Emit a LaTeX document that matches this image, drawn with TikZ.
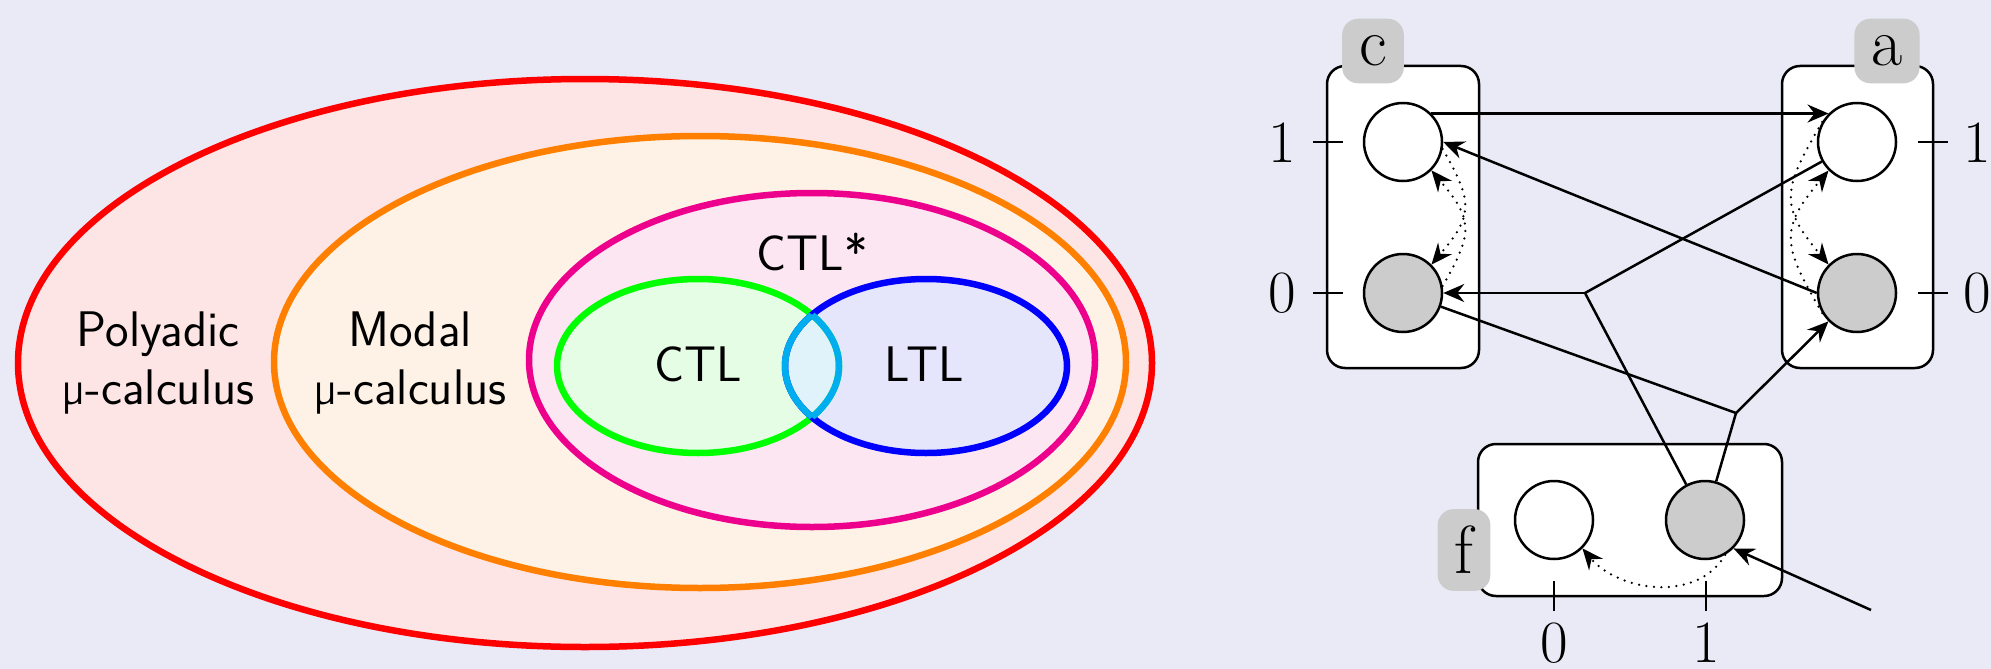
\documentclass[tikz,border=0pt]{standalone}
\usepackage{fontspec}
\setsansfont{Latin Modern Sans}
\usetikzlibrary{arrows.meta,calc}
\definecolor{bg}{RGB}{234,234,246}
\definecolor{redfill}{RGB}{253,229,230}
\definecolor{orangefill}{RGB}{254,242,230}
\definecolor{magfill}{RGB}{252,230,242}
\definecolor{greenfill}{RGB}{229,253,229}
\definecolor{bluefill}{RGB}{229,229,252}
\definecolor{lensfill}{RGB}{224,242,250}
\definecolor{redline}{RGB}{255,0,0}
\definecolor{orangeline}{RGB}{255,128,0}
\definecolor{magline}{RGB}{236,0,140}
\definecolor{greenline}{RGB}{0,255,0}
\definecolor{blueline}{RGB}{0,0,255}
\definecolor{cyanline}{RGB}{0,174,239}
\definecolor{nodegrey}{RGB}{204,204,204}
\begin{document}
\begin{tikzpicture}[x=1pt,y=1pt,
  ell/.style={line width=6.5pt},
  txt/.style={font=\sffamily\fontsize{50}{58}\selectfont, align=center, inner sep=0pt},
  st/.style={circle, draw=black, line width=2.5pt, minimum size=78pt, inner sep=0pt, fill=white},
  stg/.style={st, fill=nodegrey},
  grp/.style={draw=black, rounded corners=18pt, line width=2.5pt, fill=white, inner sep=0pt},
  lbl/.style={fill=nodegrey, rounded corners=16pt, inner sep=17pt, font=\fontsize{68}{68}\selectfont},
  num/.style={font=\fontsize{60}{60}\selectfont, inner sep=0pt},
  tck/.style={line width=2.5pt},
  conn/.style={line width=2.5pt},
  arr/.style={conn, -{Stealth[length=21pt,width=18pt,inset=7pt]}},
  dots/.style={arr, dash pattern=on 0pt off 7.5pt, line cap=round}
]
\useasboundingbox (0,0) rectangle (1991,-669);
\fill[bg] (0,0) rectangle (1991,-669);

% ---------- Venn part ----------
\draw[ell, redline, fill=redfill] (585,-363) ellipse [x radius=567, y radius=284];
\draw[ell, orangeline, fill=orangefill] (700,-362) ellipse [x radius=426, y radius=226];
\draw[ell, magline, fill=magfill] (812,-360) ellipse [x radius=283, y radius=167];
\fill[greenfill] (698,-366) ellipse [x radius=141, y radius=87];
\fill[bluefill] (926,-366) ellipse [x radius=141, y radius=87];
\begin{scope}
  \clip (698,-366) ellipse [x radius=141, y radius=87];
  \fill[lensfill] (926,-366) ellipse [x radius=141, y radius=87];
\end{scope}
\draw[ell, greenline] (698,-366) ellipse [x radius=141, y radius=87];
\draw[ell, blueline] (926,-366) ellipse [x radius=141, y radius=87];
\begin{scope}
  \clip (698,-366) ellipse [x radius=141, y radius=87];
  \draw[ell, cyanline] (926,-366) ellipse [x radius=141, y radius=87];
\end{scope}
\begin{scope}
  \clip (926,-366) ellipse [x radius=141, y radius=87];
  \draw[ell, cyanline] (698,-366) ellipse [x radius=141, y radius=87];
\end{scope}

\node[txt] (poly) at (158,-363) {Polyadic\\µ-calculus};
\node[txt] (modal) at (410,-363) {Modal\\µ-calculus};
\node[txt, anchor=base] (ctlstar) at (812,-270) {CTL*};
\node[txt, anchor=base] (ctl) at (698,-381) {CTL};
\node[txt, anchor=base] (ltl) at (924,-381) {LTL};

% ---------- game part ----------
\node[grp, minimum width=152pt, minimum height=302pt] (cbox) at (1403,-217) {};
\node[grp, minimum width=151pt, minimum height=302pt] (abox) at (1857.5,-217) {};
\node[grp, minimum width=304pt, minimum height=152pt] (fbox) at (1630,-520) {};

\node[lbl] (clab) at (1373,-51) {c};
\node[lbl] (alab) at (1887,-51) {a};
\node[lbl] (flab) at (1464,-550) {f};

% ticks and values
\draw[tck] (1313,-142) -- (1343,-142);
\draw[tck] (1313,-293) -- (1343,-293);
\draw[tck] (1918,-142) -- (1948,-142);
\draw[tck] (1918,-293) -- (1948,-293);
\draw[tck] (1554,-581) -- (1554,-611);
\draw[tck] (1706,-581) -- (1706,-611);
\node[num] (cv1) at (1282,-143) {1};
\node[num] (cv0) at (1282,-293) {0};
\node[num] (av1) at (1977,-143) {1};
\node[num] (av0) at (1977,-293) {0};
\node[num] (fv0) at (1554,-643) {0};
\node[num] (fv1) at (1706,-643) {1};

\node[st]  (c1) at (1403,-142) {};
\node[stg] (c0) at (1403,-293) {};
\node[st]  (a1) at (1857,-142) {};
\node[stg] (a0) at (1857,-293) {};
\node[st]  (f0) at (1554,-520) {};
\node[stg] (f1) at (1705,-520) {};

\coordinate (j1) at (1585,-293);
\coordinate (j2) at (1736,-413);
\coordinate (fin) at (1871,-610);

% solid moves
\draw[arr] (c1.north east) -- (a1.north west);
\draw[arr] (a0.west) -- (c1.east);
\draw[conn] (a1) -- (j1);
\draw[conn] (f1) -- (j1);
\draw[arr] (j1) -- (c0.east);
\draw[conn] (c0) -- (j2);
\draw[conn] (f1) -- (j2);
\draw[arr] (j2) -- (a0);
\draw[arr] (fin) -- (f1.south east);

% dotted moves
\draw[dots] (c0.10) to[out=60, in=-50, looseness=1.4] (c1.-45);
\draw[dots] (c1.-10) to[out=-60, in=50, looseness=1.4] (c0.45);
\draw[dots] (a1.150) to[out=240, in=130, looseness=1.4] (a0.135);
\draw[dots] (a0.210) to[out=120, in=230, looseness=1.4] (a1.225);
\draw[dots] (f1.-60) to[out=-120, in=-50] (f0.south east);
\end{tikzpicture}
\end{document}
